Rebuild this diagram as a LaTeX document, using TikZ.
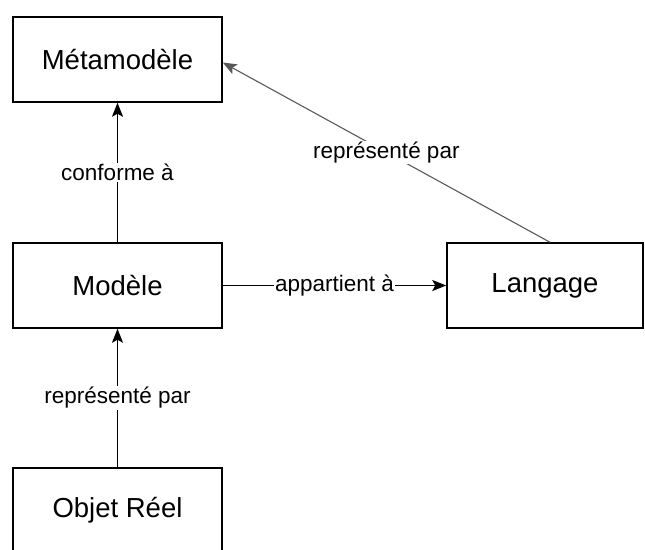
\documentclass[tikz,border=0pt]{standalone}
\usepackage{fontspec}
\setmainfont{Liberation Sans}
\usetikzlibrary{arrows.meta}
\usetikzlibrary{positioning}
\tikzset{>={Stealth[length=14pt,width=11pt,inset=3pt]}}
\tikzset{box/.style = {rectangle, draw=black, line width=1.5pt, minimum width=209pt, minimum height=85pt, font=\fontsize{27.5}{33}\selectfont}}
\tikzset{lbl/.style = {fill=white, inner sep=1pt, font=\fontsize{22.5}{27}\selectfont}}

\begin{document}
\begin{tikzpicture}[x=1pt, y=-1pt]
\useasboundingbox (0,0) rectangle (645,549);
\node [box] (meta) at (117.5, 59.5) {Métamodèle};
\node [box] (modele) at (117.5, 285.5) {Modèle};
\node [box, minimum width=196pt] (langage) at (545, 285.5) {Langage};
\node [box] (objet) at (117.5, 510.5) {Objet Réel};
\draw [->, line width=1.3pt] (modele) to node [lbl] {conforme à} (meta);
\draw [->, line width=1.3pt] (modele) to node [lbl] {appartient à} (langage);
\draw [->, line width=1.3pt] (objet) to node [lbl] {représenté par} (modele);
\draw [->, line width=1.1pt, draw=black!65] ([xshift=5pt]langage.north) to node [lbl, text=black] {représenté par} ([yshift=-3pt]meta.east);
\end{tikzpicture}
\end{document}
